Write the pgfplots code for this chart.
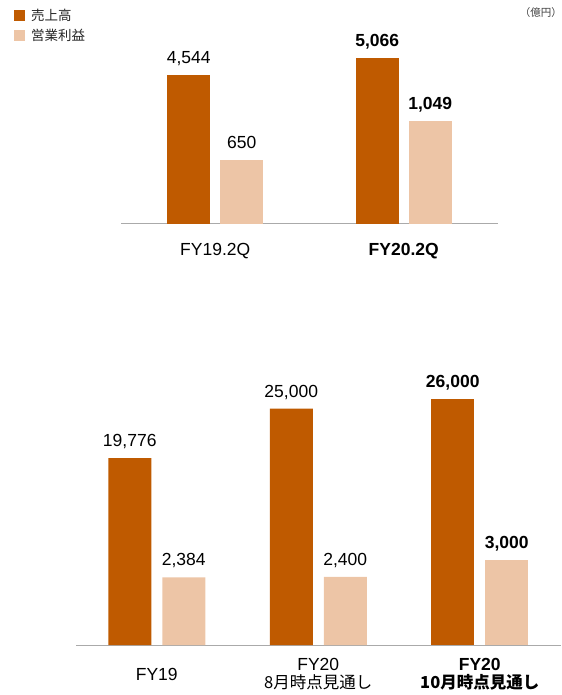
\documentclass[border=0pt]{standalone}
\usepackage{pgfplots}
\pgfplotsset{compat=1.18}
\usepackage{fontspec}
\setmainfont{Liberation Sans}
\newfontfamily\cjk{Noto Sans CJK JP}
\definecolor{sales}{RGB}{191,90,0}
\definecolor{profit}{RGB}{237,197,166}
\definecolor{axisgray}{RGB}{170,170,170}
\newcommand{\valfont}{\fontsize{17.5bp}{18.5bp}\selectfont}
\newcommand{\jfont}{\cjk\fontsize{16.5bp}{18.5bp}\selectfont}
\pgfplotsset{
  panel/.style={
    scale only axis, clip=false, ybar, bar width=43bp, ymin=0,
    axis x line*=bottom, axis y line=none,
    x axis line style={axisgray, line width=1bp, -},
    major tick length=0pt, ytick=\empty,
    point meta=explicit,
    nodes near coords={\pgfmathprintnumber[fixed,precision=0,1000 sep={,},assume math mode=true]{\pgfplotspointmeta}},
    nodes near coords align={anchor=base},
    every node near coord/.append style={yshift=11.5bp, inner sep=0pt, font=\valfont, text=black},
    xticklabel style={align=center, anchor=center, font=\valfont, text=black},
  },
  boldval/.style={every node near coord/.append style={font={\valfont\bfseries}}},
  sq/.style={legend image code/.code={\fill[##1] (0bp,-5.5bp) rectangle (11bp,5.5bp);}},
}
\begin{document}
\begin{tikzpicture}
\path[use as bounding box] (0,0) rectangle (562bp,695bp);
% top panel
\begin{axis}[panel, at={(121bp,471bp)}, anchor=south west,
  width=377bp, height=196.8bp, xmin=-0.5, xmax=1.5, ymax=6000,
  xtick={0,1}, xticklabels={FY19.2Q,\textbf{FY20.2Q}},
  xticklabel style={yshift=-27bp},
  legend style={at={(axis description cs:-0.2838,1.09)}, anchor=north west,
    draw=none, fill=none, inner sep=0pt, outer sep=0pt,
    font=\cjk\fontsize{13.5bp}{16bp}\selectfont, text=black!85,
    legend cell align=left, row sep=7bp,
    nodes={inner sep=0pt},
    /tikz/every odd column/.append style={column sep=6bp}},
  ]
\addplot[fill=sales, draw=none, bar shift=-26.5bp, sq] table[x=x,y=v,meta=v] {
x v
0 4544
};
\addlegendentry{売上高}
\addplot[fill=profit, draw=none, bar shift=26.5bp, sq] table[x=x,y expr=3*\thisrow{v},meta=v] {
x v
0 650
};
\addlegendentry{営業利益}
\addplot[fill=sales, draw=none, bar shift=-26.5bp, boldval, forget plot] table[x=x,y=v,meta=v] {
x v
1 5066
};
\addplot[fill=profit, draw=none, bar shift=26.5bp, boldval, forget plot] table[x=x,y expr=3*\thisrow{v},meta=v] {
x v
1 1049
};
\end{axis}
% bottom panel
\begin{axis}[panel, at={(76bp,50bp)}, anchor=south west,
  width=484.5bp, height=283.5bp, xmin=-0.5, xmax=2.5, ymax=30000,
  xtick={0,1,2},
  xticklabels={FY19,{FY20\\{\jfont 8月時点見通し}},{\textbf{FY20}\\{\jfont\bfseries 10月時点見通し}}},
  xticklabel style={yshift=-29bp},
  ]
\addplot[fill=sales, draw=none, bar shift=-27bp] table[x=x,y=v,meta=v] {
x v
0 19776
1 25000
};
\addplot[fill=profit, draw=none, bar shift=27bp] table[x=x,y expr=3*\thisrow{v},meta=v] {
x v
0 2384
1 2400
};
\addplot[fill=sales, draw=none, bar shift=-27bp, boldval] table[x=x,y=v,meta=v] {
x v
2 26000
};
\addplot[fill=profit, draw=none, bar shift=27bp, boldval] table[x=x,y expr=3*\thisrow{v},meta=v] {
x v
2 3000
};
\end{axis}
\node[anchor=east, inner sep=0pt, font=\cjk\fontsize{10.5bp}{12bp}\selectfont, text=black!75] at (562bp,682.3bp) {（億円）};
\end{tikzpicture}
\end{document}
